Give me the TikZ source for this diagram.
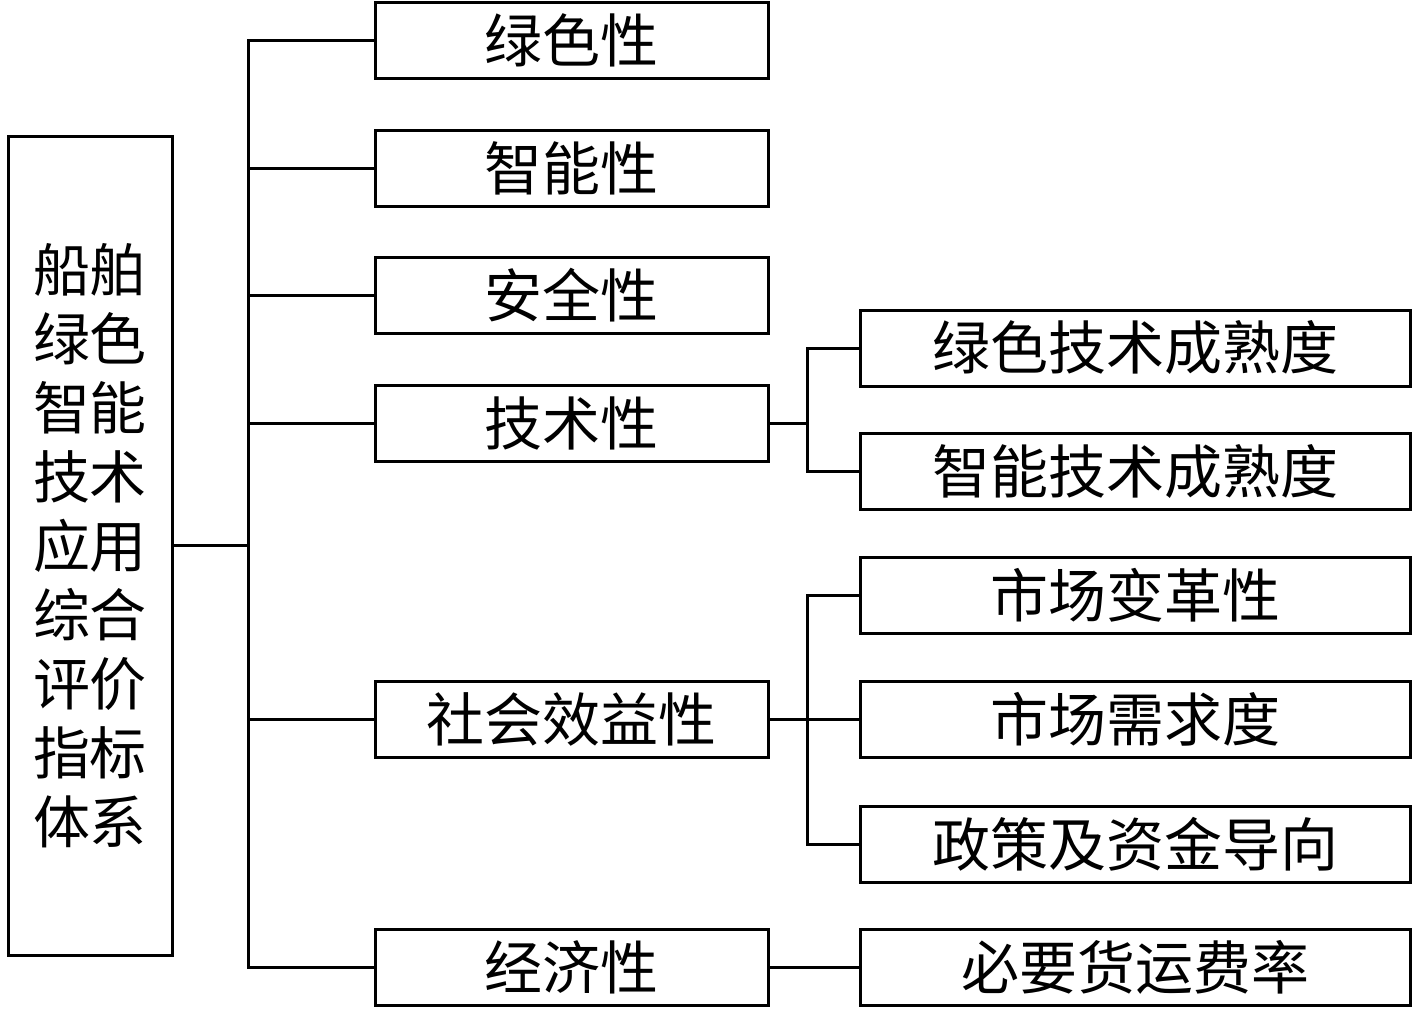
\documentclass[tikz,border=0pt]{standalone}
\usepackage{fontspec}
\setmainfont{Noto Sans CJK SC}
\begin{document}
\begin{tikzpicture}[x=1pt,y=-1pt,
  box/.style={draw=black,line width=3pt,inner sep=0pt,font=\fontsize{58}{60}\selectfont},
  mid/.style={box,minimum width=393,minimum height=76},
  rgt/.style={box,minimum width=550,minimum height=76},
  ln/.style={line width=3pt}]
\useasboundingbox (0,0) rectangle (1417,1009);
\node[box,minimum width=164,minimum height=819,align=center,font=\fontsize{57}{69}\selectfont] (L) at (90,545.5) {船舶\\绿色\\智能\\技术\\应用\\综合\\评价\\指标\\体系};
\node[mid] (m1) at (571.5,40.5) {绿色性};
\node[mid] (m2) at (571.5,168) {智能性};
\node[mid] (m3) at (571.5,295.5) {安全性};
\node[mid] (m4) at (571.5,423.5) {技术性};
\node[mid] (m5) at (571.5,719) {社会效益性};
\node[mid] (m6) at (571.5,967.5) {经济性};
\node[rgt] (r1) at (1135,348) {绿色技术成熟度};
\node[rgt] (r2) at (1135,471.5) {智能技术成熟度};
\node[rgt] (r3) at (1135,595) {市场变革性};
\node[rgt] (r4) at (1135,719) {市场需求度};
\node[rgt] (r5) at (1135,844) {政策及资金导向};
\node[rgt] (r6) at (1135,967.5) {必要货运费率};
\coordinate (t) at (248,545.5);
\coordinate (u) at (807,0);
\draw[ln] (L.east) -- (t);
\draw[ln] (m1.west) -- (m1.west -| t) -- (m6.west -| t) -- (m6.west);
\foreach \n in {m2,m3,m4,m5} \draw[ln] (\n.west -| t) -- (\n.west);
\draw[ln] (m4.east) -- (m4.east -| u);
\draw[ln] (r1.west) -- (r1.west -| u) -- (r2.west -| u) -- (r2.west);
\draw[ln] (m5.east) -- (r4.west);
\draw[ln] (r3.west) -- (r3.west -| u) -- (r5.west -| u) -- (r5.west);
\draw[ln] (m6.east) -- (r6.west);
\end{tikzpicture}
\end{document}
